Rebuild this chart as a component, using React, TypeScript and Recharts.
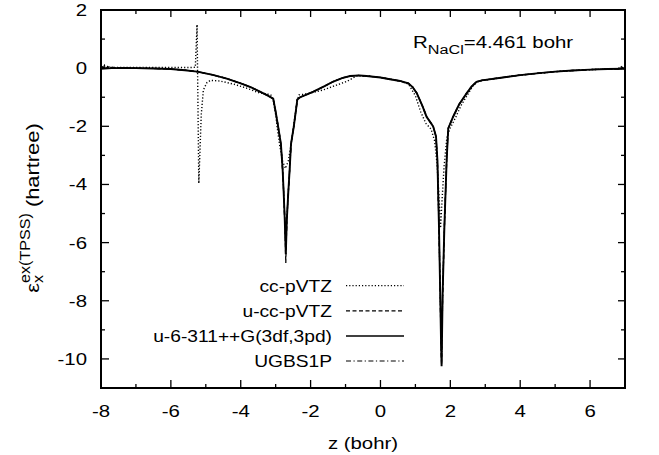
import React from "react";
import { LineChart, Line, XAxis, YAxis, ReferenceLine, ReferenceArea } from "recharts";

const FONT = "'Liberation Sans', Arial, Helvetica, sans-serif";
const SX = 1.2;
const PLOT_TOP = 10;
const PLOT_RIGHT = 625;

const xTicks = [-8, -7, -6, -5, -4, -3, -2, -1, 0, 1, 2, 3, 4, 5, 6, 7];
const yTicks = [-11, -10, -9, -8, -7, -6, -5, -4, -3, -2, -1, 0, 1, 2];

// z (bohr), eps_x (hartree)
const ccPVTZ: [number, number][] = [
  [-8, 0.06], [-7.8, 0.02], [-7, 0.02], [-6, 0.02], [-5.5, 0.02], [-5.3, 0.03],
  [-5.25, 1.5], [-5.2, -3.96], [-5.13, -1.6], [-5.07, -0.75], [-4.97, -0.5],
  [-4.87, -0.42], [-4.6, -0.44], [-4.2, -0.55], [-3.8, -0.7], [-3.45, -0.86],
  [-3.26, -0.88], [-3.14, -0.92], [-3.06, -1.15], [-3.0, -1.6], [-2.95, -2.1],
  [-2.88, -2.7], [-2.8, -3.2], [-2.72, -3.45], [-2.64, -3.2], [-2.57, -2.7],
  [-2.5, -2.1], [-2.44, -1.6], [-2.38, -1.1], [-2.33, -0.92], [-2.3, -0.92],
  [-1.95, -0.84], [-1.64, -0.75], [-1.3, -0.6], [-0.97, -0.46], [-0.68, -0.27],
  [-0.4, -0.27], [0, -0.32], [0.56, -0.44], [0.8, -0.55], [1.0, -0.95],
  [1.15, -1.5], [1.3, -1.9], [1.45, -2.1], [1.55, -2.5], [1.62, -3.3],
  [1.68, -4.5], [1.72, -5.5], [1.76, -4.6], [1.82, -3.4], [1.9, -2.4],
  [2.0, -2.05], [2.15, -1.7], [2.3, -1.3], [2.5, -0.9], [2.65, -0.6],
  [2.8, -0.46], [2.95, -0.42], [3.5, -0.32], [4.0, -0.24], [5.0, -0.12],
  [6.0, -0.05], [7, -0.02],
];

const uccPVTZ: [number, number][] = [
  [-8, 0.12], [-7.95, -0.05], [-7.9, 0.1], [-7.85, 0.0], [-7.75, 0.06],
  [-7.6, 0.01], [-7.3, 0.01], [-7, 0.0], [-6.5, -0.01], [-6, -0.03],
  [-5.6, -0.07], [-5.25, -0.12], [-4.8, -0.23], [-4.4, -0.36], [-4.0, -0.52],
  [-3.7, -0.66], [-3.45, -0.81], [-3.25, -0.93], [-3.07, -1.05], [-3.0, -1.5],
  [-2.93, -2.0], [-2.85, -2.6], [-2.8, -3.5], [-2.77, -4.3], [-2.74, -5.2],
  [-2.72, -6.1], [-2.71, -6.7], [-2.7, -6.1], [-2.68, -5.2], [-2.64, -4.3],
  [-2.6, -3.5], [-2.56, -2.6], [-2.48, -2.0], [-2.42, -1.45], [-2.38, -1.08],
  [-2.3, -1.0], [-2.1, -0.9], [-1.92, -0.81], [-1.6, -0.62], [-1.35, -0.46],
  [-1.1, -0.34], [-0.87, -0.27], [-0.6, -0.25], [-0.4, -0.27], [0, -0.32],
  [0.27, -0.38], [0.56, -0.44], [0.8, -0.52], [0.92, -0.65], [1.04, -0.86],
  [1.2, -1.3], [1.32, -1.67], [1.45, -1.9], [1.51, -2.01], [1.59, -2.35],
  [1.63, -3.16], [1.675, -5.45], [1.71, -7.74], [1.735, -9.5], [1.75, -10.2],
  [1.765, -9.0], [1.78, -7.74], [1.83, -5.45], [1.895, -3.16], [1.94, -2.07],
  [2.08, -1.67], [2.25, -1.25], [2.47, -0.86], [2.61, -0.63], [2.75, -0.47],
  [2.9, -0.42], [3.5, -0.32], [4.0, -0.24], [4.47, -0.18], [5.0, -0.12],
  [5.5, -0.08], [6.0, -0.05], [6.5, -0.03], [6.85, -0.02], [6.9, 0.05],
  [6.95, -0.01], [7, 0.04],
];

const u6311: [number, number][] = [
  [-8, -0.02], [-7.7, 0.0], [-7.3, 0.01], [-7, 0.0], [-6.5, -0.01], [-6, -0.03],
  [-5.6, -0.07], [-5.25, -0.12], [-4.8, -0.23], [-4.4, -0.36], [-4.0, -0.52],
  [-3.7, -0.66], [-3.45, -0.81], [-3.25, -0.93], [-3.07, -1.05], [-3.0, -1.5],
  [-2.93, -2.0], [-2.85, -2.6], [-2.8, -3.5], [-2.77, -4.3], [-2.74, -5.2],
  [-2.72, -6.0], [-2.71, -6.4], [-2.7, -6.0], [-2.68, -5.2], [-2.64, -4.3],
  [-2.6, -3.5], [-2.56, -2.6], [-2.48, -2.0], [-2.42, -1.45], [-2.38, -1.08],
  [-2.3, -1.0], [-2.1, -0.9], [-1.92, -0.81], [-1.6, -0.62], [-1.35, -0.46],
  [-1.1, -0.34], [-0.87, -0.27], [-0.6, -0.25], [-0.4, -0.27], [0, -0.32],
  [0.27, -0.38], [0.56, -0.44], [0.8, -0.52], [0.92, -0.65], [1.04, -0.86],
  [1.2, -1.3], [1.32, -1.67], [1.45, -1.9], [1.51, -2.01], [1.59, -2.35],
  [1.63, -3.16], [1.675, -5.45], [1.71, -7.74], [1.735, -9.5], [1.75, -10.25],
  [1.765, -9.0], [1.78, -7.74], [1.83, -5.45], [1.895, -3.16], [1.94, -2.07],
  [2.08, -1.67], [2.25, -1.25], [2.47, -0.86], [2.61, -0.63], [2.75, -0.47],
  [2.9, -0.42], [3.5, -0.32], [4.0, -0.24], [4.47, -0.18], [5.0, -0.12],
  [5.5, -0.08], [6.0, -0.05], [6.5, -0.03], [7, -0.02],
];

const ugbs1p: [number, number][] = [
  [-8, 0.08], [-7.92, 0.0], [-7.85, 0.07], [-7.7, 0.02], [-7.3, 0.01],
  [-7, 0.0], [-6.5, -0.01], [-6, -0.03], [-5.6, -0.07], [-5.25, -0.12],
  [-4.8, -0.23], [-4.4, -0.36], [-4.0, -0.52], [-3.7, -0.66], [-3.45, -0.81],
  [-3.25, -0.93], [-3.07, -1.05], [-3.0, -1.5], [-2.93, -2.0], [-2.85, -2.6],
  [-2.8, -3.5], [-2.77, -4.3], [-2.74, -5.2], [-2.72, -5.9], [-2.71, -6.2],
  [-2.7, -5.9], [-2.68, -5.2], [-2.64, -4.3], [-2.6, -3.5], [-2.56, -2.6],
  [-2.48, -2.0], [-2.42, -1.45], [-2.38, -1.08], [-2.3, -1.0], [-2.1, -0.9],
  [-1.92, -0.81], [-1.6, -0.62], [-1.35, -0.46], [-1.1, -0.34], [-0.87, -0.27],
  [-0.6, -0.25], [-0.4, -0.27], [0, -0.32], [0.27, -0.38], [0.56, -0.44],
  [0.8, -0.52], [0.92, -0.65], [1.04, -0.86], [1.2, -1.3], [1.32, -1.67],
  [1.45, -1.9], [1.51, -2.01], [1.59, -2.35], [1.63, -3.16], [1.675, -5.45],
  [1.71, -7.74], [1.735, -9.5], [1.75, -10.1], [1.765, -9.0], [1.78, -7.74],
  [1.83, -5.45], [1.895, -3.16], [1.94, -2.07], [2.08, -1.67], [2.25, -1.25],
  [2.47, -0.86], [2.61, -0.63], [2.75, -0.47], [2.9, -0.42], [3.5, -0.32],
  [4.0, -0.24], [4.47, -0.18], [5.0, -0.12], [5.5, -0.08], [6.0, -0.05],
  [6.5, -0.03], [6.9, -0.02], [6.95, 0.04], [7, 0.0],
];

const series = [
  { name: "cc-pVTZ", pts: ccPVTZ, dash: "1.2 2", width: 1.4 },
  { name: "u-cc-pVTZ", pts: uccPVTZ, dash: "4 2.5", width: 1.3 },
  { name: "u-6-311++G(3df,3pd)", pts: u6311, dash: undefined, width: 1.9 },
  { name: "UGBS1P", pts: ugbs1p, dash: "5 2.5 1.2 2.5", width: 1.3 },
];

const rows = (pts: [number, number][]) => pts.map(([z, v]) => ({ z, v }));

const Txt = ({ x, y, size = 16, anchor = "middle", children }: any) => (
  <text
    transform={`translate(${x},${y}) scale(${SX},1)`}
    fontSize={size}
    textAnchor={anchor}
    fontFamily={FONT}
    fill="#000"
  >
    {children}
  </text>
);

const isMajor = (v: number) => Math.abs(v) % 2 === 0;

// inward ticks, mirrored on the top edge
const BottomTick = ({ x, y, payload }: any) => {
  const major = isMajor(payload.value);
  return (
    <g>
      <line x1={x} x2={x} y1={y} y2={y - (major ? 8 : 4)} stroke="#000" strokeWidth={1.3} />
      <line x1={x} x2={x} y1={PLOT_TOP} y2={PLOT_TOP + (major ? 7 : 4)} stroke="#000" strokeWidth={1.3} />
      {major && <Txt x={x} y={y + 29} size={17}>{payload.value}</Txt>}
    </g>
  );
};

// inward ticks, mirrored on the right edge
const LeftTick = ({ x, y, payload }: any) => {
  const major = isMajor(payload.value);
  return (
    <g>
      <line x1={x} x2={x + (major ? 8 : 4)} y1={y} y2={y} stroke="#000" strokeWidth={1.3} />
      <line x1={PLOT_RIGHT} x2={PLOT_RIGHT - (major ? 7 : 4)} y1={y} y2={y} stroke="#000" strokeWidth={1.3} />
      {major && (
        <Txt x={x - 14} y={y + 6} size={17} anchor="end">{payload.value}</Txt>
      )}
    </g>
  );
};

const axisLine = { stroke: "#000", strokeWidth: 2 };

export default function App() {
  return (
    <div style={{ position: "absolute", left: 0, top: 0, width: 659, height: 455, background: "#fff" }}>
      <LineChart width={659} height={455} margin={{ top: PLOT_TOP, right: 659 - PLOT_RIGHT, left: 0, bottom: 0 }}>
        <XAxis
          dataKey="z"
          type="number"
          domain={[-8, 7]}
          ticks={xTicks}
          interval={0}
          allowDataOverflow
          height={67}
          axisLine={axisLine}
          tickLine={false}
          tickSize={0}
          tickMargin={0}
          tick={BottomTick}
        />
        <YAxis
          type="number"
          domain={[-11, 2]}
          ticks={yTicks}
          interval={0}
          allowDataOverflow
          width={101}
          axisLine={axisLine}
          tickLine={false}
          tickSize={0}
          tickMargin={0}
          tick={LeftTick}
        />
        {/* plot frame */}
        <ReferenceArea
          x1={-8}
          x2={7}
          y1={-11}
          y2={2}
          fill="none"
          fillOpacity={0}
          stroke="#000"
          strokeWidth={2}
          strokeOpacity={1}
          ifOverflow="visible"
        />
        <ReferenceLine x={7} stroke="#000" strokeWidth={2} ifOverflow="visible" />
        <ReferenceLine y={2} stroke="#000" strokeWidth={2} ifOverflow="visible" />
        {series.map((s) => (
          <Line
            key={s.name}
            data={rows(s.pts)}
            dataKey="v"
            type="linear"
            stroke="#000"
            strokeWidth={s.width}
            strokeDasharray={s.dash}
            dot={false}
            activeDot={false}
            isAnimationActive={false}
          />
        ))}
      </LineChart>
      <svg
        width={659}
        height={455}
        style={{ position: "absolute", left: 0, top: 0, pointerEvents: "none" }}
      >
        {series.map((s, i) => (
          <g key={s.name}>
            <Txt x={332} y={291.7 + i * 25.1} anchor="end">{s.name}</Txt>
            <line
              x1={346}
              x2={404}
              y1={285.7 + i * 25.1}
              y2={285.7 + i * 25.1}
              stroke="#000"
              strokeWidth={s.dash ? 1.2 : 1.5}
              strokeDasharray={s.dash}
            />
          </g>
        ))}
        <Txt x={413} y={48.3} size={17} anchor="start">
          R<tspan dy={6} fontSize={13.5}>NaCl</tspan>
          <tspan dy={-6} fontSize={17}>=4.461 bohr</tspan>
        </Txt>
        <Txt x={363} y={449} size={17}>z (bohr)</Txt>
        <text
          transform={`translate(39,208) rotate(-90) scale(1.15,1)`}
          fontSize={19}
          textAnchor="middle"
          fontFamily={FONT}
          fill="#000"
        >
          ε
          <tspan dy={4} fontSize={14}>x</tspan>
          <tspan dx={-7} dy={-13} fontSize={14}>ex(TPSS)</tspan>
          <tspan dy={9} fontSize={19}> (hartree)</tspan>
        </text>
      </svg>
    </div>
  );
}
